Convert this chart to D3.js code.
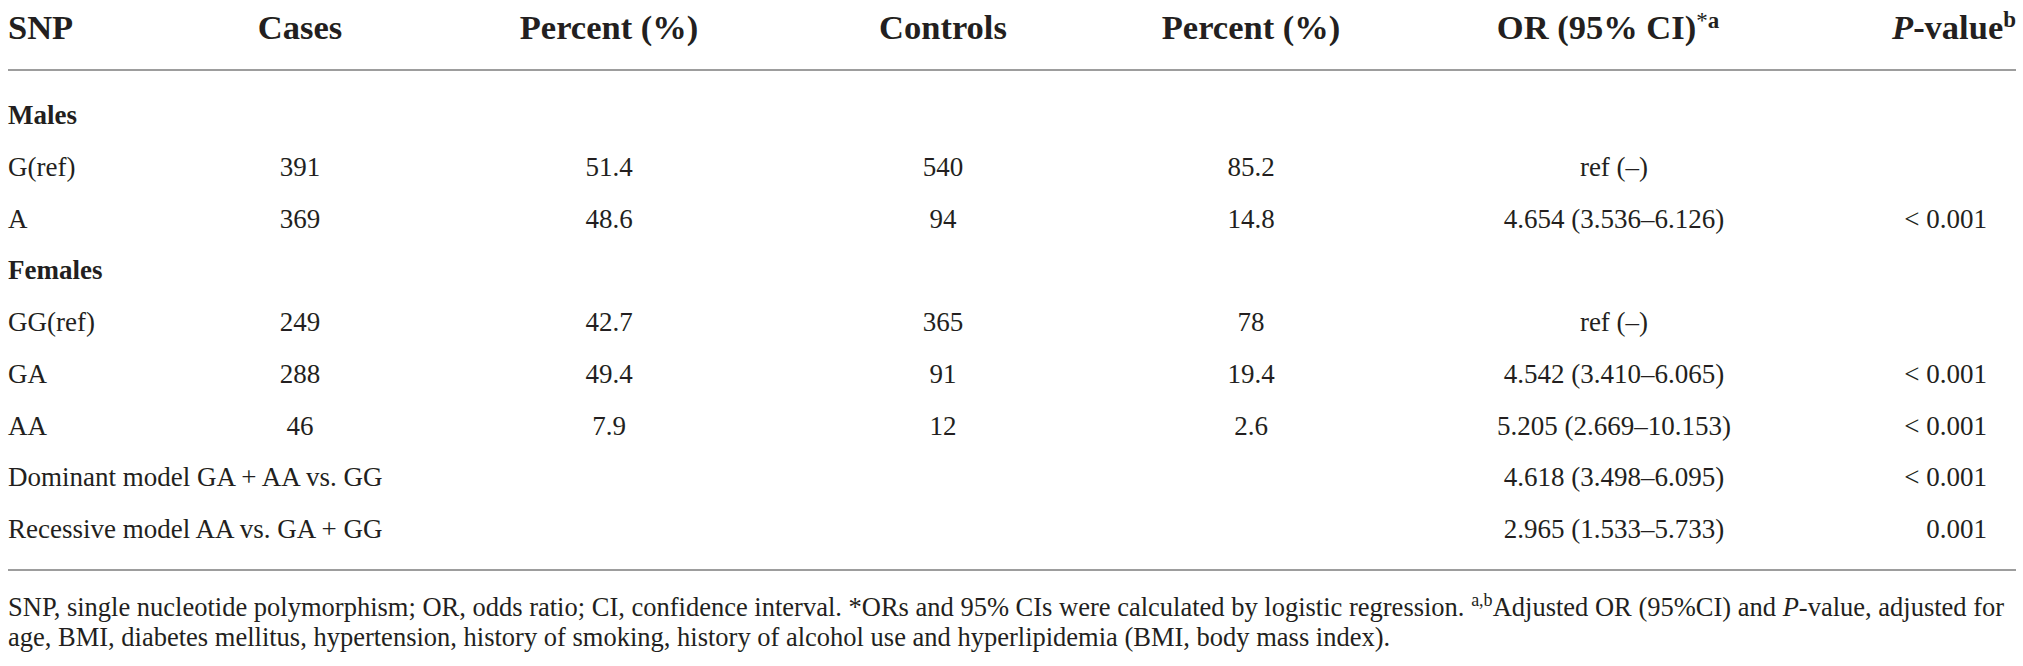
<!DOCTYPE html>
<html>
<head>
<meta charset="utf-8">
<script src="https://cdn.jsdelivr.net/npm/d3@7"></script>
<style>
  body { margin: 0; background: #fff; }
  text { font-family: "Liberation Serif", "Times New Roman", serif; fill: #231f20; }
</style>
</head>
<body>
<svg></svg>
<script>
// table content
let columns = ["snp", "cases", "casesPct", "controls", "controlsPct", "or", "p"];
let headers = ["SNP", "Cases", "Percent (%)", "Controls", "Percent (%)", "OR (95% CI)", "P"];

let rowLabels = ["Males", "G(ref)", "A", "Females", "GG(ref)", "GA", "AA",
  "Dominant model GA + AA vs. GG", "Recessive model AA vs. GA + GG"];
let groupRows = ["Males", "Females"];
let cases = ["", "391", "369", "", "249", "288", "46", "", ""];
let casesPct = ["", "51.4", "48.6", "", "42.7", "49.4", "7.9", "", ""];
let controls = ["", "540", "94", "", "365", "91", "12", "", ""];
let controlsPct = ["", "85.2", "14.8", "", "78", "19.4", "2.6", "", ""];
let orCI = ["", "ref (\u2013)", "4.654 (3.536\u20136.126)", "", "ref (\u2013)",
  "4.542 (3.410\u20136.065)", "5.205 (2.669\u201310.153)",
  "4.618 (3.498\u20136.095)", "2.965 (1.533\u20135.733)"];
let pValues = ["", "", "< 0.001", "", "", "< 0.001", "< 0.001", "< 0.001", "0.001"];

let footnote1 = "SNP, single nucleotide polymorphism; OR, odds ratio; CI, confidence interval. *ORs and 95% CIs were calculated by logistic regression. ";
let footnote1b = "Adjusted OR (95%CI) and ";
let footnote1c = "-value, adjusted for";
let footnote2 = "age, BMI, diabetes mellitus, hypertension, history of smoking, history of alcohol use and hyperlipidemia (BMI, body mass index).";

let width = 2023;
let height = 666;
let left = 8;
let right = 2016;

let svg = d3.select("svg").attr("width", width).attr("height", height);

// scales
let xScale = d3.scaleOrdinal()
  .domain(columns)
  .range([left, 300, 609, 943, 1251, 1608, 2016]);
let valueX = d3.scaleOrdinal()
  .domain(columns)
  .range([left, 300, 609, 943, 1251, 1614, 1987]);
let anchor = d3.scaleOrdinal()
  .domain(columns)
  .range(["start", "middle", "middle", "middle", "middle", "middle", "end"]);
let yScale = d3.scalePoint()
  .domain(d3.range(rowLabels.length))
  .range([124, 538]);

// header
let head = svg.append("g").attr("class", "header");
head.selectAll("text")
  .data(columns)
  .enter()
  .append("text")
  .attr("x", (c) => xScale(c))
  .attr("y", 39)
  .attr("text-anchor", (c) => anchor(c))
  .attr("font-size", 34.5)
  .attr("font-weight", "bold")
  .each(function (c, i) {
    let t = d3.select(this);
    if (c === "p") {
      t.append("tspan").attr("font-style", "italic").text("P");
      t.append("tspan").text("-value");
      t.append("tspan").attr("dy", -12).attr("font-size", 23).text("b");
    } else if (c === "or") {
      t.append("tspan").text(headers[i]);
      t.append("tspan").attr("dy", -11).attr("font-size", 23).attr("font-weight", "normal").text("*");
      t.append("tspan").attr("font-size", 23).text("a");
    } else {
      t.text(headers[i]);
    }
  });

// rules
let rules = [70, 570];
svg.selectAll("line.rule")
  .data(rules)
  .enter()
  .append("line")
  .attr("class", "rule")
  .attr("x1", left)
  .attr("x2", right)
  .attr("y1", (d) => d)
  .attr("y2", (d) => d)
  .attr("stroke", "#9d9d9d")
  .attr("stroke-width", 2);

// body cells
let cols = { snp: rowLabels, cases: cases, casesPct: casesPct, controls: controls,
  controlsPct: controlsPct, or: orCI, p: pValues };

let cells = [];
rowLabels.forEach((r, i) => {
  columns.forEach((c) => {
    if (cols[c][i] !== "") cells.push({ row: i, col: c, value: cols[c][i] });
  });
});

svg.append("g")
  .selectAll("text")
  .data(cells)
  .enter()
  .append("text")
  .attr("x", (d) => valueX(d.col))
  .attr("y", (d) => yScale(d.row))
  .attr("text-anchor", (d) => anchor(d.col))
  .attr("font-size", 27)
  .attr("font-weight", (d) => (d.col === "snp" && groupRows.includes(d.value) ? "bold" : "normal"))
  .text((d) => d.value);

// footnotes
let fn = svg.append("g").attr("font-size", 26.5);
let f1 = fn.append("text").attr("x", left).attr("y", 616);
f1.append("tspan").text(footnote1);
f1.append("tspan").attr("dy", -10).attr("font-size", 18).text("a,b");
f1.append("tspan").attr("dy", 10).text(footnote1b);
f1.append("tspan").attr("font-style", "italic").text("P");
f1.append("tspan").text(footnote1c);

fn.append("text").attr("x", left).attr("y", 646).text(footnote2);
</script>
</body>
</html>
